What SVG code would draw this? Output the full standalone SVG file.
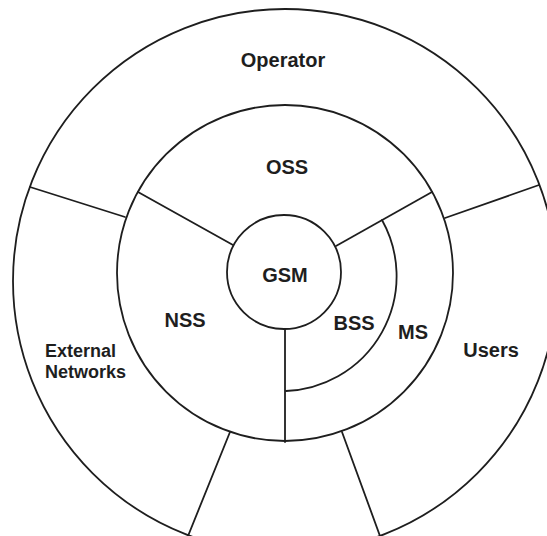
<svg xmlns="http://www.w3.org/2000/svg" width="547" height="536" viewBox="0 0 547 536">
  <style>
    .ring { fill: none; stroke: #1e1e1e; stroke-width: 1.8; }
    .div  { fill: none; stroke: #1e1e1e; stroke-width: 1.8; stroke-linecap: round; }
    .lbl  { font-family: "Liberation Sans", Arial, sans-serif; font-weight: bold; font-size: 20px; fill: #1e1e1e; text-anchor: middle; }
    .lbl-s { font-size: 18px; text-anchor: start; }
  </style>
  <rect width="547" height="536" fill="#ffffff"/>

  <!-- outer ring: Operator / External Networks / Users -->
  <g id="outer-ring">
    <circle class="ring" cx="285" cy="281" r="272"/>
  </g>

  <!-- middle ring: OSS / NSS / BSS+MS -->
  <g id="middle-ring">
    <circle class="ring" cx="285" cy="273" r="168"/>
  </g>

  <!-- core -->
  <g id="gsm">
    <circle class="ring" cx="284" cy="272" r="57"/>
    <text class="lbl" x="285" y="282">GSM</text>
  </g>

  <!-- sector dividers -->
  <g id="dividers">
    <line class="div" x1="30" y1="187" x2="125" y2="217"/>
    <line class="div" x1="445" y1="218" x2="539" y2="185"/>
    <line class="div" x1="230" y1="432" x2="188" y2="536"/>
    <line class="div" x1="342" y1="432" x2="380" y2="536"/>
    <line class="div" x1="138" y1="192" x2="233" y2="245"/>
    <line class="div" x1="336" y1="246" x2="432" y2="192"/>
    <line class="div" x1="285" y1="329" x2="285" y2="442"/>
    <!-- BSS / MS boundary -->
    <path class="div" d="M382,220 A115,115 0 0 1 286,391"/>
  </g>

  <g id="operator"><text class="lbl" x="283" y="67">Operator</text></g>
  <g id="oss"><text class="lbl" x="287" y="174">OSS</text></g>
  <g id="nss"><text class="lbl" x="185" y="327">NSS</text></g>
  <g id="bss"><text class="lbl" x="354" y="330">BSS</text></g>
  <g id="ms"><text class="lbl" x="413" y="339">MS</text></g>
  <g id="users"><text class="lbl" x="491" y="357">Users</text></g>
  <g id="external-networks">
    <text class="lbl lbl-s" x="45" y="357">External</text>
    <text class="lbl lbl-s" x="45" y="378">Networks</text>
  </g>
</svg>
